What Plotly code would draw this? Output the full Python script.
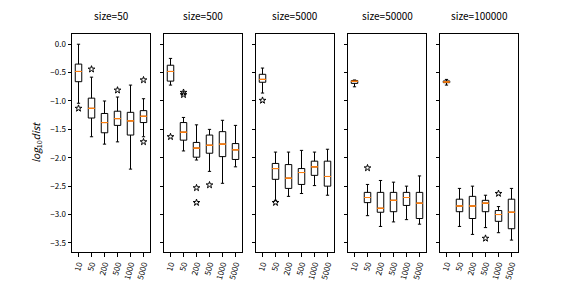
import plotly.graph_objects as go
from plotly.subplots import make_subplots

sizes = ["size=50", "size=500", "size=5000", "size=50000", "size=100000"]
categories = ["10", "50", "200", "500", "1000", "5000"]
positions = [1, 2, 3, 4, 5, 6]

# per panel: lists over categories
whisk_hi = [
    [0.00, -0.58, -1.00, -0.93, -0.72, -0.96],
    [-0.25, -1.29, -1.42, -1.50, -1.34, -1.43],
    [-0.42, -1.90, -1.90, -1.87, -1.90, -1.85],
    [-0.63, -2.47, -2.40, -2.43, -2.50, -2.32],
    [-0.62, -2.54, -2.50, -2.66, -2.86, -2.54],
]
q3 = [
    [-0.35, -0.95, -1.22, -1.18, -1.20, -1.17],
    [-0.37, -1.38, -1.73, -1.60, -1.54, -1.75],
    [-0.53, -2.10, -2.12, -2.19, -2.06, -2.06],
    [-0.64, -2.61, -2.61, -2.61, -2.61, -2.61],
    [-0.647, -2.73, -2.68, -2.75, -2.93, -2.73],
]
medians = [
    [-0.48, -1.13, -1.38, -1.31, -1.35, -1.27],
    [-0.48, -1.55, -1.83, -1.78, -1.76, -1.86],
    [-0.62, -2.19, -2.36, -2.26, -2.16, -2.33],
    [-0.653, -2.70, -2.89, -2.75, -2.70, -2.80],
    [-0.665, -2.85, -2.85, -2.80, -3.00, -2.96],
]
q1 = [
    [-0.66, -1.30, -1.56, -1.43, -1.60, -1.38],
    [-0.65, -1.69, -1.99, -1.92, -1.98, -2.03],
    [-0.67, -2.38, -2.54, -2.47, -2.31, -2.50],
    [-0.69, -2.79, -2.96, -2.95, -2.84, -3.07],
    [-0.677, -2.95, -3.07, -2.95, -3.12, -3.25],
]
whisk_lo = [
    [-1.04, -1.63, -1.76, -1.72, -2.20, -1.63],
    [-0.72, -1.88, -2.04, -2.24, -2.45, -2.16],
    [-0.86, -2.75, -2.68, -2.63, -2.49, -2.66],
    [-0.75, -3.02, -3.21, -3.13, -3.09, -3.17],
    [-0.72, -3.21, -3.35, -3.23, -3.32, -3.45],
]
# outliers: (category index, value)
outlier_cat = [
    [0, 1, 3, 5, 5],
    [0, 1, 1, 2, 2, 3],
    [0, 1],
    [1],
    [3, 4],
]
outlier_val = [
    [-1.13, -0.44, -0.81, -0.63, -1.72],
    [-1.63, -0.85, -0.89, -2.53, -2.79, -2.48],
    [-0.99, -2.79],
    [-2.18],
    [-3.42, -2.63],
]

FONT = "Noto Sans CJK SC"
fig = make_subplots(rows=1, cols=5, shared_yaxes=True,
                    horizontal_spacing=14 / 446, subplot_titles=sizes)

for i in range(5):
    col = i + 1
    fig.add_trace(go.Box(
        x=positions, q1=q1[i], median=medians[i], q3=q3[i],
        lowerfence=whisk_lo[i], upperfence=whisk_hi[i],
        width=0.5, whiskerwidth=0.5, fillcolor="white",
        line=dict(color="black", width=1), boxpoints=False,
        showlegend=False, hoverinfo="skip"), row=1, col=col)
    fig.add_trace(go.Box(
        x=positions, q1=medians[i], median=medians[i], q3=medians[i],
        lowerfence=medians[i], upperfence=medians[i],
        width=0.5, whiskerwidth=0, fillcolor="rgba(0,0,0,0)",
        line=dict(color="#ff7f0e", width=1), boxpoints=False,
        showlegend=False, hoverinfo="skip"), row=1, col=col)
    fig.add_trace(go.Scatter(
        x=[positions[c] for c in outlier_cat[i]], y=outlier_val[i],
        mode="markers",
        marker=dict(symbol="star-open", size=5, color="black",
                    line=dict(color="black", width=1)),
        showlegend=False, hoverinfo="skip"), row=1, col=col)
    fig.update_xaxes(range=[0.5, 6.5], tickmode="array", tickvals=positions,
                     ticktext=categories, tickangle=-75, ticks="outside",
                     ticklen=3.5, tickcolor="black", showline=True,
                     linecolor="black", linewidth=1, mirror=True,
                     showgrid=False, zeroline=False, automargin=False,
                     tickfont=dict(family=FONT, size=8, color="black"),
                     row=1, col=col)
    fig.update_yaxes(range=[-3.66, 0.18], tickvals=[0, -0.5, -1, -1.5, -2, -2.5, -3, -3.5],
                     ticks="outside", ticklen=3.5, tickcolor="black",
                     showline=True, linecolor="black", linewidth=1, mirror=True,
                     showgrid=False, zeroline=False, automargin=False,
                     tickfont=dict(family=FONT, size=8, color="black"),
                     row=1, col=col)

fig.update_yaxes(tickformat=".1f", row=1, col=1,
                 title=dict(text="<i>log</i><sub>10</sub><i>dist</i>",
                            font=dict(family=FONT, size=10, color="black"),
                            standoff=7))
for a in fig.layout.annotations:
    a.font = dict(family=FONT, size=10, color="black")
    a.yshift = 9

fig.update_layout(width=576, height=288, plot_bgcolor="white",
                  paper_bgcolor="white", boxmode="overlay",
                  margin=dict(l=72, r=58, t=34, b=36))
fig.write_html("out.html", config={"displayModeBar": False},
               post_script="document.body.style.margin='0';document.body.style.padding='0';")
